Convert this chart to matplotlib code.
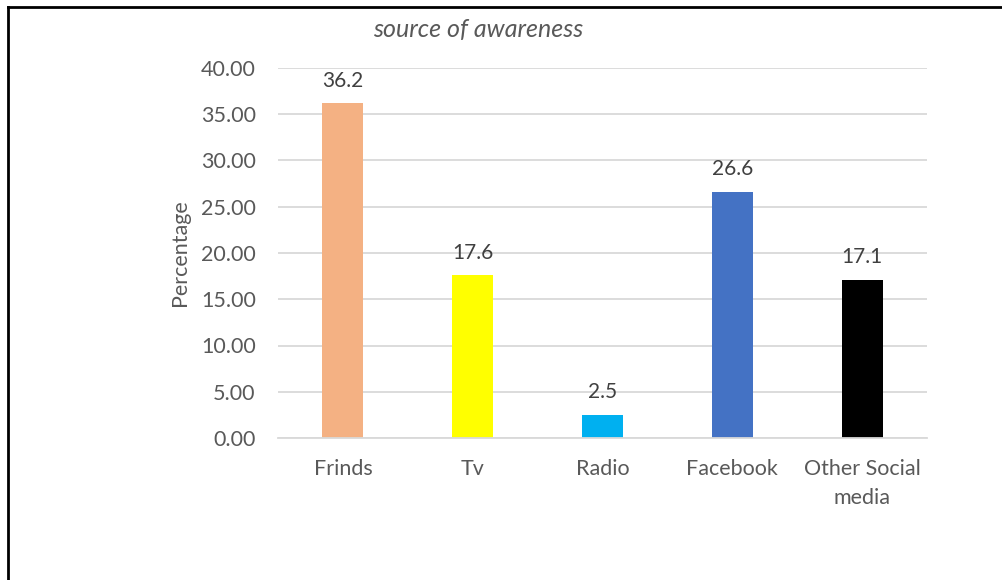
import matplotlib
matplotlib.use("Agg")
import matplotlib.pyplot as plt
from matplotlib.lines import Line2D

categories = ["Frinds", "Tv", "Radio", "Facebook", "Other Social\nmedia"]
values = [36.2, 17.6, 2.5, 26.6, 17.1]
colors = ["#F4B183", "#FFFF00", "#00B0F0", "#4472C4", "#000000"]
yticks = [0, 5, 10, 15, 20, 25, 30, 35, 40]

plt.rcParams['font.family'] = ['Lato', 'DejaVu Sans']
txt = "#595959"

fig = plt.figure(figsize=(10.02, 5.80), dpi=100)
ax = fig.add_axes([278/1002, 1-438/580, (927-278)/1002, (438-68)/580])

x = list(range(len(categories)))
bars = ax.bar(x, values, width=0.316, color=colors, zorder=3)
for xi, v in zip(x, values):
    ax.annotate(f"{v:.1f}", (xi, v), xytext=(0, 9), textcoords="offset points",
                ha="center", va="bottom", fontsize=15, color="#404040")

ax.set_xlim(-0.5, len(categories) - 0.5)
ax.set_ylim(0, 40)
ax.set_yticks(yticks)
ax.set_yticklabels([f"{t:.2f}" for t in yticks])
ax.set_xticks(x)
ax.set_xticklabels(categories, linespacing=1.55)
ax.tick_params(axis="both", length=0, labelsize=15.5, labelcolor=txt)
ax.tick_params(axis="y", pad=16)
ax.tick_params(axis="x", pad=15)
ax.grid(axis="y", color="#D9D9D9", linewidth=1.3, zorder=0)
for s in ["left", "right", "top"]:
    ax.spines[s].set_visible(False)
ax.spines["bottom"].set_color("#D9D9D9")
ax.spines["bottom"].set_linewidth(1.3)
ax.spines["bottom"].set_zorder(4)
ax.set_ylabel("Percentage", fontsize=15.5, color=txt, labelpad=8)

fig.text(478/1002, 1-30/580, "source of awareness", ha="center", va="center",
         fontsize=18, style="italic", color=txt)

# outer frame (left and top)
fig.add_artist(Line2D([8/1002, 8/1002], [0, 1-7/580], transform=fig.transFigure,
                      color="black", linewidth=2))
fig.add_artist(Line2D([8/1002, 1], [1-7/580, 1-7/580], transform=fig.transFigure,
                      color="black", linewidth=2))

fig.savefig("out.png", dpi=100)
